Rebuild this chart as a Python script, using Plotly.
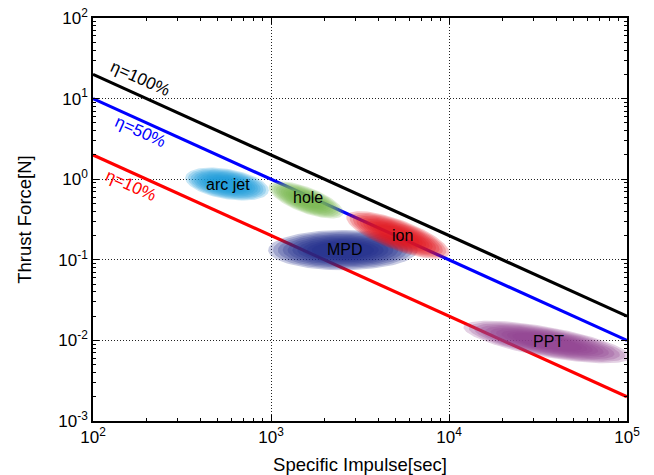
import numpy as np
import plotly.graph_objects as go

# ---- data ----
isp_range = [1e2, 1e5]
eff_labels = ["η=100%", "η=50%", "η=10%"]
eff_thrust_at_100 = [20.0, 10.0, 2.0]      # thrust at Isp=100 s
eff_thrust_at_1e5 = [0.02, 0.01, 0.002]    # thrust at Isp=1e5 s
eff_colors = ["#000000", "#0000ff", "#ff0000"]
eff_label_isp = [184, 184, 163]
eff_label_thrust = [18.0, 3.95, 0.83]

thrusters = ["arc jet", "hole", "MPD", "ion", "PPT"]
thr_isp = [566, 1574, 2535, 5164, 35560]          # ellipse centres
thr_thrust = [0.87, 0.552, 0.132, 0.203, 0.00955]
thr_wlog = [0.235, 0.21, 0.42, 0.29, 0.47]        # half-widths in decades
thr_hlog = [0.19, 0.17, 0.25, 0.20, 0.19]         # half-heights in decades
thr_tilt = [-0.33, -0.74, 0.0, -0.75, -0.39]
thr_colors = ["#1a9cd8", "#7ab850", "#1f2a8a", "#e3161d", "#8e3f8e"]
thr_label_isp = [570, 1610, 2600, 5450, 36000]
thr_label_thrust = [0.87, 0.59, 0.135, 0.203, 0.0098]

x_ticks = [1e2, 1e3, 1e4, 1e5]
x_ticktext = ["10<sup>2</sup>", "10<sup>3</sup>", "10<sup>4</sup>", "10<sup>5</sup>"]
y_ticks = [1e-3, 1e-2, 1e-1, 1e0, 1e1, 1e2]
y_ticktext = ["10<sup>-3</sup>", "10<sup>-2</sup>", "10<sup>-1</sup>",
              "10<sup>0</sup>", "10<sup>1</sup>", "10<sup>2</sup>"]

def minor_vals(lo, hi):
    return [m * 10.0 ** e for e in range(lo, hi) for m in range(2, 10)]

fig = go.Figure()

# efficiency lines
for lab, a, b, c in zip(eff_labels, eff_thrust_at_100, eff_thrust_at_1e5, eff_colors):
    fig.add_trace(go.Scatter(x=isp_range, y=[a, b], mode="lines",
                             line=dict(color=c, width=3.2), hoverinfo="skip",
                             showlegend=False))

# blurred ellipses (layers of translucent ellipses)
t = np.linspace(0, 2 * np.pi, 120)
n_layers = 10
for name, xi, yi, w, h, k, c in zip(thrusters, thr_isp, thr_thrust, thr_wlog,
                                     thr_hlog, thr_tilt, thr_colors):
    lx, ly = np.log10(xi), np.log10(yi)
    for i in range(n_layers):
        s = 1.0 - i * 0.065
        dx = w * s * np.cos(t)
        dy = h * s * np.sin(t) + k * dx
        fig.add_trace(go.Scatter(x=10 ** (lx + dx), y=10 ** (ly + dy),
                                 mode="lines", fill="toself", fillcolor=c,
                                 line=dict(width=0), opacity=0.24,
                                 hoverinfo="skip", showlegend=False))

# thruster labels
for name, xi, yi in zip(thrusters, thr_label_isp, thr_label_thrust):
    fig.add_annotation(x=np.log10(xi), y=np.log10(yi), text=name, showarrow=False,
                       font=dict(family="Liberation Sans, Arial", size=16, color="black"))

# efficiency labels
for lab, xi, yi, c in zip(eff_labels, eff_label_isp, eff_label_thrust, eff_colors):
    fig.add_annotation(x=np.log10(xi), y=np.log10(yi), text=lab, showarrow=False,
                       textangle=24,
                       font=dict(family="Liberation Sans, Arial", size=17, color=c))

axis_common = dict(type="log", showline=True, linecolor="black", linewidth=1.5,
                   mirror="allticks", ticks="inside", ticklen=6, tickcolor="black",
                   tickwidth=1, automargin=False,
                   showgrid=True, gridcolor="#222222", griddash="1px,2px", gridwidth=1,
                   zeroline=False,
                   tickfont=dict(family="Liberation Sans, Arial", size=17, color="black"),
                   title_font=dict(family="Liberation Sans, Arial", size=18.5, color="black"))

fig.update_xaxes(**axis_common, range=[2, 5], tickmode="array", tickvals=x_ticks,
                 ticktext=x_ticktext, title_text="Specific Impulse[sec]", title_standoff=12,
                 minor=dict(ticks="inside", ticklen=3, tickcolor="black", tickmode="array",
                            tickvals=minor_vals(2, 5), showgrid=False))
fig.update_yaxes(**axis_common, range=[-3, 2], tickmode="array", tickvals=y_ticks,
                 ticktext=y_ticktext, title_text="Thrust Force[N]", title_standoff=22,
                 minor=dict(ticks="inside", ticklen=3, tickcolor="black", tickmode="array",
                            tickvals=minor_vals(-3, 2), showgrid=False))

fig.update_layout(width=654, height=475, plot_bgcolor="white", paper_bgcolor="white",
                  margin=dict(l=93, r=27, t=18, b=54), showlegend=False)

fig.write_html("out.html")
